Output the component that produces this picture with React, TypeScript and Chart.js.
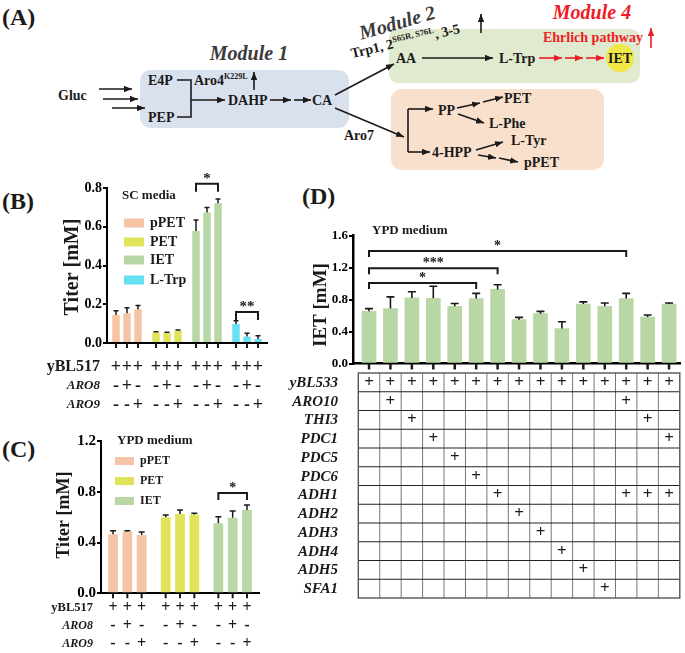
import React, { useEffect, useRef } from 'react';
import { Chart, registerables } from 'chart.js';

Chart.register(...registerables);

const SERIF = "'Liberation Serif', 'Times New Roman', Times, serif";
const INK = '#1c1a19';
const RED = '#ee1c25';

// ===== Panel B : SC media =====
const compoundsB = ['pPET', 'PET', 'IET', 'L-Trp'];
const titerB_yBL517 = [0.145, 0.054, 0.578, 0.098];
const titerB_ARO8 = [0.153, 0.052, 0.674, 0.033];
const titerB_ARO9 = [0.174, 0.063, 0.721, 0.021];
const sdB_yBL517 = [0.022, 0.004, 0.057, 0.017];
const sdB_ARO8 = [0.029, 0.003, 0.026, 0.017];
const sdB_ARO9 = [0.019, 0.004, 0.022, 0.017];
const yMaxB = 0.8;
const yStepB = 0.2;

// ===== Panel C : YPD medium =====
const compoundsC = ['pPET', 'PET', 'IET'];
const titerC_yBL517 = [0.465, 0.599, 0.552];
const titerC_ARO8 = [0.485, 0.625, 0.596];
const titerC_ARO9 = [0.459, 0.62, 0.656];
const sdC_yBL517 = [0.028, 0.018, 0.052];
const sdC_ARO8 = [0.008, 0.031, 0.052];
const sdC_ARO9 = [0.024, 0.01, 0.04];
const yMaxC = 1.2;
const yStepC = 0.4;

// genotype rows under B and C
const genotypeRows = ['yBL517', 'ARO8', 'ARO9'];
const genotype_yBL517 = ['+', '-', '-'];
const genotype_ARO8 = ['+', '+', '-'];
const genotype_ARO9 = ['+', '-', '+'];

// significance marks (compound index, strain from / to, level in mM)
const sigB = [
  { compound: 2, from: 0, to: 2, level: 0.822, label: '*' },
  { compound: 3, from: 0, to: 2, level: 0.16, label: '**' },
];
const sigC = [{ compound: 2, from: 0, to: 2, level: 0.79, label: '*' }];

// ===== Panel D : IET in YPD medium =====
const strainsD = [
  'yBL533', 'ARO10', 'THI3', 'PDC1', 'PDC5', 'PDC6', 'ADH1', 'ADH2',
  'ADH3', 'ADH4', 'ADH5', 'SFA1', 'ARO10+ADH1', 'THI3+ADH1', 'PDC1+ADH1',
];
const ietD = [0.652, 0.686, 0.82, 0.815, 0.715, 0.812, 0.926, 0.548, 0.623, 0.438, 0.744, 0.715, 0.812, 0.58, 0.744];
const sdD = [0.034, 0.147, 0.076, 0.15, 0.035, 0.064, 0.059, 0.029, 0.029, 0.084, 0.026, 0.042, 0.064, 0.026, 0.013];
const genesD = ['yBL533', 'ARO10', 'THI3', 'PDC1', 'PDC5', 'PDC6', 'ADH1', 'ADH2', 'ADH3', 'ADH4', 'ADH5', 'SFA1'];
const genePlusColumnsD = [
  [0, 1, 2, 3, 4, 5, 6, 7, 8, 9, 10, 11, 12, 13, 14],
  [1, 12],
  [2, 13],
  [3, 14],
  [4],
  [5],
  [6, 12, 13, 14],
  [7],
  [8],
  [9],
  [10],
  [11],
];
const sigD = [
  { from: 0, to: 12, level: 1.406, label: '*' },
  { from: 0, to: 6, level: 1.19, label: '***' },
  { from: 0, to: 5, level: 1.006, label: '*' },
];
const yMaxD = 1.6;
const yStepD = 0.4;

const COMPOUND_COLORS: Record<string, string> = {
  pPET: '#f4c4a5',
  PET: '#e1e45a',
  IET: '#b9d7a4',
  'L-Trp': '#66e0f2',
};

type Series = { name: string; values: number[]; sd: number[]; marks: string[] };
type GroupedSpec = {
  canvasW: number;
  canvasH: number;
  area: { left: number; right: number; top: number; bottom: number };
  categories: string[];
  series: Series[];
  yMax: number;
  yStep: number;
  tickFontSize: number;
  catPct: number;
  barPct: number;
  cap: number;
  errLW: number;
  axisLW: number;
  xTickLen: number;
  yTitle: { text: string; x: number; y: number; size: number };
  title: { text: string; x: number; y: number; size: number };
  legend: { boxX: number; boxW: number; boxH: number; labelX: number; ys: number[]; size: number };
  rows: { labels: string[]; labelX: number; ys: number[]; firstSize: number; otherSize: number; markSize: number };
  sig: { compound: number; from: number; to: number; level: number; label: string }[];
  sigDrop: number;
  starSize: number;
};

function groupedPlugin(spec: GroupedSpec) {
  return {
    id: 'groupedExtras',
    afterDraw(chart: any) {
      const ctx: CanvasRenderingContext2D = chart.ctx;
      const ys = chart.scales.y;
      const axisY = chart.chartArea.bottom;
      const barX = (k: number, i: number) => chart.getDatasetMeta(k).data[i].x;
      ctx.save();
      ctx.strokeStyle = INK;
      ctx.fillStyle = INK;
      // error bars and x tick marks
      spec.series.forEach((s, k) => {
        chart.getDatasetMeta(k).data.forEach((bar: any, i: number) => {
          const top = ys.getPixelForValue(s.values[i]);
          const et = ys.getPixelForValue(s.values[i] + s.sd[i]);
          ctx.lineWidth = spec.errLW;
          ctx.beginPath();
          ctx.moveTo(bar.x, top);
          ctx.lineTo(bar.x, et);
          ctx.moveTo(bar.x - spec.cap, et);
          ctx.lineTo(bar.x + spec.cap, et);
          ctx.stroke();
          ctx.lineWidth = spec.axisLW;
          ctx.beginPath();
          ctx.moveTo(bar.x, axisY);
          ctx.lineTo(bar.x, axisY + spec.xTickLen);
          ctx.stroke();
        });
      });
      // genotype rows
      ctx.textBaseline = 'middle';
      spec.rows.labels.forEach((lab, r) => {
        const y = spec.rows.ys[r];
        ctx.textAlign = 'right';
        ctx.font = r === 0 ? `bold ${spec.rows.firstSize}px ${SERIF}` : `italic bold ${spec.rows.otherSize}px ${SERIF}`;
        ctx.fillText(lab, spec.rows.labelX, y);
        ctx.textAlign = 'center';
        ctx.font = `bold ${spec.rows.markSize}px ${SERIF}`;
        spec.series.forEach((s, k) => {
          chart.getDatasetMeta(k).data.forEach((bar: any) => {
            ctx.fillText(s.marks[r], bar.x, y);
          });
        });
      });
      // legend
      spec.categories.forEach((c, i) => {
        const y = spec.legend.ys[i];
        ctx.fillStyle = COMPOUND_COLORS[c];
        ctx.fillRect(spec.legend.boxX, y - spec.legend.boxH / 2, spec.legend.boxW, spec.legend.boxH);
        ctx.fillStyle = INK;
        ctx.textAlign = 'left';
        ctx.font = `bold ${spec.legend.size}px ${SERIF}`;
        ctx.fillText(c, spec.legend.labelX, y);
      });
      // title
      ctx.font = `bold ${spec.title.size}px ${SERIF}`;
      ctx.textAlign = 'left';
      ctx.fillText(spec.title.text, spec.title.x, spec.title.y);
      // y title
      ctx.save();
      ctx.translate(spec.yTitle.x, spec.yTitle.y);
      ctx.rotate(-Math.PI / 2);
      ctx.textAlign = 'center';
      ctx.font = `bold ${spec.yTitle.size}px ${SERIF}`;
      ctx.fillText(spec.yTitle.text, 0, 0);
      ctx.restore();
      // significance
      spec.sig.forEach((s) => {
        const x1 = barX(s.from, s.compound);
        const x2 = barX(s.to, s.compound);
        const y = ys.getPixelForValue(s.level);
        ctx.lineWidth = 2;
        ctx.beginPath();
        ctx.moveTo(x1, y + spec.sigDrop);
        ctx.lineTo(x1, y);
        ctx.lineTo(x2, y);
        ctx.lineTo(x2, y + spec.sigDrop);
        ctx.stroke();
        ctx.font = `bold ${spec.starSize}px ${SERIF}`;
        ctx.textAlign = 'center';
        ctx.textBaseline = 'alphabetic';
        ctx.fillText(s.label, (x1 + x2) / 2, y - 1);
        ctx.textBaseline = 'middle';
      });
      ctx.restore();
    },
  };
}

function groupedConfig(spec: GroupedSpec): any {
  const { area } = spec;
  return {
    type: 'bar',
    data: {
      labels: spec.categories,
      datasets: spec.series.map((s) => ({
        label: s.name,
        data: s.values,
        backgroundColor: spec.categories.map((c) => COMPOUND_COLORS[c]),
        borderWidth: 0,
        categoryPercentage: spec.catPct,
        barPercentage: spec.barPct,
      })),
    },
    options: {
      animation: false,
      responsive: false,
      events: [],
      layout: { padding: { left: 0, top: area.top, right: spec.canvasW - area.right, bottom: 0 } },
      plugins: { legend: { display: false }, tooltip: { enabled: false } },
      scales: {
        x: {
          type: 'category',
          grid: { display: false },
          ticks: { display: false },
          border: { display: true, color: '#000', width: spec.axisLW },
          afterFit: (s: any) => {
            s.height = spec.canvasH - area.bottom;
          },
        },
        y: {
          min: 0,
          max: spec.yMax,
          ticks: {
            stepSize: spec.yStep,
            color: '#000',
            padding: 1,
            font: { family: SERIF, size: spec.tickFontSize, weight: 'bold' },
            callback: (v: any) => Number(v).toFixed(1),
          },
          grid: { drawOnChartArea: false, drawTicks: true, tickLength: 4, color: '#000', lineWidth: spec.axisLW },
          border: { color: '#000', width: spec.axisLW },
          afterFit: (s: any) => {
            s.width = area.left;
          },
        },
      },
    },
    plugins: [groupedPlugin(spec)],
  };
}

const specB: GroupedSpec = {
  canvasW: 300,
  canvasH: 245,
  area: { left: 107, right: 267, top: 18, bottom: 173 },
  categories: compoundsB,
  series: [
    { name: 'yBL517', values: titerB_yBL517, sd: sdB_yBL517, marks: genotype_yBL517 },
    { name: 'yBL517 ARO8', values: titerB_ARO8, sd: sdB_ARO8, marks: genotype_ARO8 },
    { name: 'yBL517 ARO9', values: titerB_ARO9, sd: sdB_ARO9, marks: genotype_ARO9 },
  ],
  yMax: yMaxB,
  yStep: yStepB,
  tickFontSize: 14,
  catPct: 0.825,
  barPct: 0.68,
  cap: 2.5,
  errLW: 1.5,
  axisLW: 2,
  xTickLen: 5,
  yTitle: { text: 'Titer [mM]', x: 73, y: 97, size: 20 },
  title: { text: 'SC media', x: 122, y: 26, size: 13 },
  legend: { boxX: 124, boxW: 20, boxH: 9, labelX: 150, ys: [53, 72, 90, 110], size: 14 },
  rows: { labels: genotypeRows, labelX: 100, ys: [197, 216, 235], firstSize: 16, otherSize: 13, markSize: 18 },
  sig: sigB,
  sigDrop: 8,
  starSize: 15,
};

const specC: GroupedSpec = {
  canvasW: 300,
  canvasH: 228,
  area: { left: 101, right: 259, top: 16, bottom: 168.3 },
  categories: compoundsC,
  series: [
    { name: 'yBL517', values: titerC_yBL517, sd: sdC_yBL517, marks: genotype_yBL517 },
    { name: 'yBL517 ARO8', values: titerC_ARO8, sd: sdC_ARO8, marks: genotype_ARO8 },
    { name: 'yBL517 ARO9', values: titerC_ARO9, sd: sdC_ARO9, marks: genotype_ARO9 },
  ],
  yMax: yMaxC,
  yStep: yStepC,
  tickFontSize: 15,
  catPct: 0.815,
  barPct: 0.68,
  cap: 3,
  errLW: 1.5,
  axisLW: 2,
  xTickLen: 5,
  yTitle: { text: 'Titer [mM]', x: 64, y: 90, size: 18 },
  title: { text: 'YPD medium', x: 117, y: 16, size: 13 },
  legend: { boxX: 115, boxW: 19, boxH: 8, labelX: 140, ys: [36, 56, 76], size: 12 },
  rows: { labels: genotypeRows, labelX: 93, ys: [183, 201, 219], firstSize: 12.5, otherSize: 12, markSize: 16 },
  sig: sigC,
  sigDrop: 7,
  starSize: 14,
};

// ----- Panel D (canvas placed at page x 270, y 220) -----
const D = {
  canvasW: 415,
  canvasH: 385,
  area: { left: 83, right: 410, top: 15.5, bottom: 143.5 },
  tableTop: 153,
  rowH: 18.75,
  labelRight: 68,
};

function configD(): any {
  const plugin = {
    id: 'dExtras',
    afterDraw(chart: any) {
      const ctx: CanvasRenderingContext2D = chart.ctx;
      const xs = chart.scales.x;
      const ys = chart.scales.y;
      const axisY = chart.chartArea.bottom;
      ctx.save();
      ctx.strokeStyle = INK;
      ctx.fillStyle = INK;
      // error bars + ticks
      ietD.forEach((v, i) => {
        const x = xs.getPixelForValue(i);
        const top = ys.getPixelForValue(v);
        const et = ys.getPixelForValue(v + sdD[i]);
        ctx.lineWidth = 1.6;
        ctx.beginPath();
        ctx.moveTo(x, top);
        ctx.lineTo(x, et);
        ctx.moveTo(x - 4, et);
        ctx.lineTo(x + 4, et);
        ctx.stroke();
        ctx.lineWidth = 2.5;
        ctx.beginPath();
        ctx.moveTo(x, axisY);
        ctx.lineTo(x, axisY + 6);
        ctx.stroke();
      });
      // significance
      sigD.forEach((s) => {
        const x1 = xs.getPixelForValue(s.from);
        const x2 = xs.getPixelForValue(s.to);
        const y = ys.getPixelForValue(s.level);
        ctx.lineWidth = 2;
        ctx.beginPath();
        ctx.moveTo(x1, y + 6);
        ctx.lineTo(x1, y);
        ctx.lineTo(x2, y);
        ctx.lineTo(x2, y + 6);
        ctx.stroke();
        ctx.font = `bold 14px ${SERIF}`;
        ctx.textAlign = 'center';
        ctx.textBaseline = 'alphabetic';
        ctx.fillText(s.label, (x1 + x2) / 2, y - 1);
      });
      // title
      ctx.textBaseline = 'middle';
      ctx.textAlign = 'left';
      ctx.font = `bold 13px ${SERIF}`;
      ctx.fillText('YPD medium', 102, 11);
      // y title
      ctx.save();
      ctx.translate(51, 85);
      ctx.rotate(-Math.PI / 2);
      ctx.textAlign = 'center';
      ctx.font = `bold 19px ${SERIF}`;
      ctx.fillText('IET [mM]', 0, 0);
      ctx.restore();
      // table
      const n = strainsD.length;
      const x0 = xs.getPixelForValue(-0.5);
      const colW = xs.getPixelForValue(0.5) - xs.getPixelForValue(-0.5);
      const x1 = x0 + n * colW;
      const top = D.tableTop;
      const bottom = top + genesD.length * D.rowH;
      ctx.lineWidth = 1;
      ctx.strokeStyle = '#777';
      for (let c = 1; c < n; c++) {
        const x = x0 + c * colW;
        ctx.beginPath();
        ctx.moveTo(x, top);
        ctx.lineTo(x, bottom);
        ctx.stroke();
      }
      ctx.strokeStyle = '#222';
      for (let r = 1; r < genesD.length; r++) {
        const y = top + r * D.rowH;
        ctx.beginPath();
        ctx.moveTo(x0, y);
        ctx.lineTo(x1, y);
        ctx.stroke();
      }
      ctx.strokeStyle = '#555';
      ctx.lineWidth = 1.4;
      ctx.strokeRect(x0, top, x1 - x0, bottom - top);
      genesD.forEach((g, r) => {
        const y = top + (r + 0.5) * D.rowH;
        ctx.textAlign = 'right';
        ctx.font = `italic bold 15px ${SERIF}`;
        ctx.fillText(g, D.labelRight, y + 0.5);
        ctx.textAlign = 'center';
        ctx.font = `bold 17px ${SERIF}`;
        genePlusColumnsD[r].forEach((c) => {
          ctx.fillText('+', xs.getPixelForValue(c), y);
        });
      });
      ctx.restore();
    },
  };
  return {
    type: 'bar',
    data: {
      datasets: [
        {
          label: 'IET',
          data: ietD.map((v, i) => ({ x: i, y: v })),
          backgroundColor: COMPOUND_COLORS.IET,
          borderWidth: 0,
          barThickness: 14,
        },
      ],
    },
    options: {
      animation: false,
      responsive: false,
      events: [],
      layout: { padding: { left: 0, top: D.area.top, right: D.canvasW - D.area.right, bottom: 0 } },
      plugins: { legend: { display: false }, tooltip: { enabled: false } },
      scales: {
        x: {
          type: 'linear',
          offset: false,
          min: -0.747,
          max: 14.51,
          grid: { display: false, offset: false },
          ticks: { display: false },
          border: { display: true, color: '#000', width: 2.5 },
          afterFit: (s: any) => {
            s.height = D.canvasH - D.area.bottom;
          },
        },
        y: {
          min: 0,
          max: yMaxD,
          ticks: {
            stepSize: yStepD,
            color: '#000',
            padding: 1,
            font: { family: SERIF, size: 13, weight: 'bold' },
            callback: (v: any) => Number(v).toFixed(1),
          },
          grid: { drawOnChartArea: false, drawTicks: true, tickLength: 4, color: '#000', lineWidth: 2 },
          border: { color: '#000', width: 2.5 },
          afterFit: (s: any) => {
            s.width = D.area.left;
          },
        },
      },
    },
    plugins: [plugin],
  };
}

function ChartCanvas({ make, left, top, width, height }: { make: () => any; left: number; top: number; width: number; height: number }) {
  const ref = useRef<HTMLCanvasElement>(null);
  useEffect(() => {
    const chart = new Chart(ref.current as HTMLCanvasElement, make());
    return () => chart.destroy();
  }, []);
  return (
    <canvas
      ref={ref}
      width={width}
      height={height}
      style={{ position: 'absolute', left, top, width, height }}
    />
  );
}

function Diagram() {
  const ln = (x1: number, y1: number, x2: number, y2: number, red = false, head = true) => (
    <line
      x1={x1}
      y1={y1}
      x2={x2}
      y2={y2}
      stroke={red ? RED : INK}
      strokeWidth={1.6}
      markerEnd={head ? (red ? 'url(#ahr)' : 'url(#ah)') : undefined}
    />
  );
  return (
    <svg
      width={685}
      height={653}
      style={{ position: 'absolute', left: 0, top: 0 }}
      fontFamily={SERIF}
      fontWeight="bold"
      fontSize={14}
      fill={INK}
    >
      <defs>
        <marker id="ah" viewBox="0 0 10 8" refX="10" refY="4" markerWidth="8" markerHeight="6.4" markerUnits="userSpaceOnUse" orient="auto">
          <path d="M0,0 L10,4 L0,8 z" fill={INK} />
        </marker>
        <marker id="ahr" viewBox="0 0 10 8" refX="10" refY="4" markerWidth="8" markerHeight="6.4" markerUnits="userSpaceOnUse" orient="auto">
          <path d="M0,0 L10,4 L0,8 z" fill={RED} />
        </marker>
      </defs>
      {/* panel labels */}
      <text x={2} y={25} fontSize={24}>(A)</text>
      <text x={2} y={209} fontSize={24}>(B)</text>
      <text x={2} y={457} fontSize={24}>(C)</text>
      <text x={302} y={204} fontSize={24}>(D)</text>

      {/* module boxes */}
      <rect x={140} y={70} width={209} height={58} rx={11} fill="#d9e1ee" />
      <rect x={389} y={29} width={251} height={54} rx={9} fill="#dfeacf" />
      <rect x={391} y={89} width={213} height={81} rx={11} fill="#f8e0cd" />

      <text x={249} y={60} textAnchor="middle" fontStyle="italic" fontSize={20} fill="#3b3b3b">Module 1</text>
      <text transform="translate(399,29) rotate(-16)" textAnchor="middle" fontStyle="italic" fontSize={20} fill="#3b3b3b">Module 2</text>
      <text x={592} y={19} textAnchor="middle" fontStyle="italic" fontSize={20} fill={RED}>Module 4</text>

      {/* module 1 */}
      <text x={58} y={100}>Gluc</text>
      {ln(99, 89, 132, 89)}
      {ln(103, 99, 138, 99)}
      {ln(112, 108, 145, 108)}
      <text x={148} y={85}>E4P</text>
      <text x={148} y={122}>PEP</text>
      <polyline points="177,80 191,80 191,117 177,117" fill="none" stroke={INK} strokeWidth={1.6} />
      {ln(191, 100, 225, 100)}
      <text x={194} y={85}>Aro4<tspan fontSize={8} dy={-6}>K229L</tspan></text>
      {ln(254, 90, 254, 72)}
      <text x={228} y={105}>DAHP</text>
      {ln(270, 100, 291, 100)}
      {ln(294, 100, 311, 100)}
      <text x={312} y={105}>CA</text>
      {ln(335, 95, 394, 64)}
      {ln(335, 108, 404, 137)}
      <text x={344} y={140}>Aro7</text>

      {/* module 2 / 4 */}
      <text transform="translate(352,58) rotate(-13)" fontSize={14}>
        Trp1, 2<tspan fontSize={8.5} dy={-6}>S65R, S76L</tspan>
        <tspan dy={6}>, 3-5</tspan>
      </text>
      {ln(481, 33, 481, 14)}
      <text x={396} y={63}>AA</text>
      {ln(422, 58, 493, 58)}
      <text x={499} y={63}>L-Trp</text>
      {ln(539, 58, 562, 58, true)}
      {ln(565, 58, 583, 58, true)}
      {ln(586, 58, 604, 58, true)}
      <circle cx={620} cy={58} r={14} fill="#f1e845" />
      <text x={620} y={63} textAnchor="middle">IET</text>
      <text x={543} y={42} fill={RED}>Ehrlich pathway</text>
      {ln(651, 48, 651, 28, true)}

      {/* branch to PP / 4-HPP */}
      <line x1={408} y1={109} x2={408} y2={152} stroke={INK} strokeWidth={1.6} />
      {ln(408, 109, 433, 109)}
      {ln(408, 152, 430, 152)}
      <text x={438} y={115}>PP</text>
      {ln(457, 108, 480, 103)}
      {ln(483, 102, 503, 97)}
      <text x={504} y={103}>PET</text>
      {ln(458, 114, 484, 123)}
      <text x={489} y={128}>L-Phe</text>
      <text x={432} y={157}>4-HPP</text>
      {ln(476, 150, 503, 142)}
      <text x={511} y={145}>L-Tyr</text>
      {ln(478, 155, 496, 158)}
      {ln(499, 158, 518, 162)}
      <text x={524} y={167}>pPET</text>
    </svg>
  );
}

export default function App() {
  return (
    <div style={{ position: 'absolute', left: 0, top: 0, width: 685, height: 653, background: '#fff', overflow: 'hidden' }}>
      <Diagram />
      <ChartCanvas make={() => groupedConfig(specB)} left={0} top={170} width={specB.canvasW} height={specB.canvasH} />
      <ChartCanvas make={() => groupedConfig(specC)} left={0} top={425} width={specC.canvasW} height={specC.canvasH} />
      <ChartCanvas make={configD} left={270} top={220} width={D.canvasW} height={D.canvasH} />
    </div>
  );
}
